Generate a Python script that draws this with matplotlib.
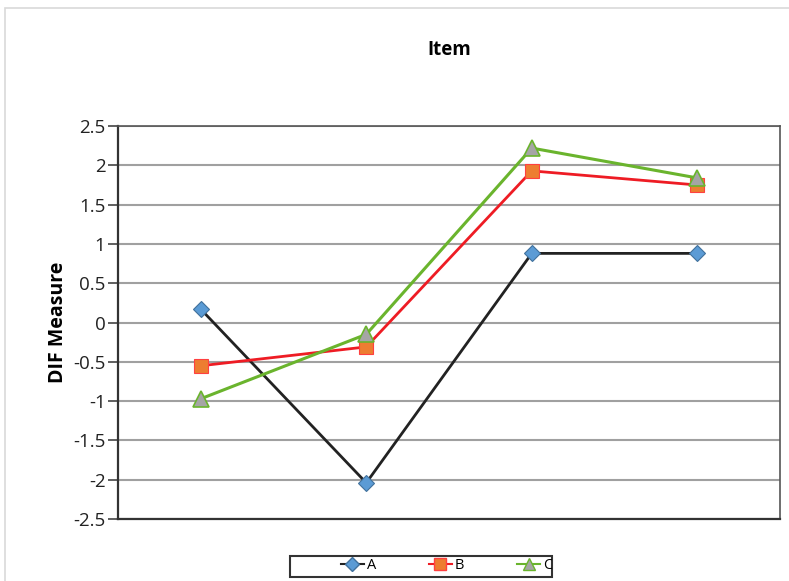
import matplotlib.pyplot as plt
from matplotlib.lines import Line2D
from matplotlib.patches import Rectangle

plt.rcParams['font.family'] = ['Open Sans', 'DejaVu Sans']

items = [1, 2, 3, 4]
a_vals = [0.17, -2.04, 0.88, 0.88]
b_vals = [-0.55, -0.31, 1.93, 1.75]
c_vals = [-0.97, -0.15, 2.22, 1.84]

fig = plt.figure(figsize=(7.89, 5.81), dpi=100)
ax = fig.add_axes([0.1496, 0.1067, 0.839, 0.6763])

ax.plot(items, a_vals, color='#222222', lw=2, marker='D', ms=8,
        mfc='#5b9bd5', mec='#41719c', mew=0.8, label='A', zorder=3)
ax.plot(items, b_vals, color='#ee1c24', lw=2, marker='s', ms=10,
        mfc='#ed7d31', mec='#ff4040', mew=0.8, label='B', zorder=4)
ax.plot(items, c_vals, color='#6ab42d', lw=2.2, marker='^', ms=11,
        mfc='#a5a5a5', mec='#6ab42d', mew=1.2, label='C', zorder=5)

ax.set_xlim(0.5, 4.5)
ax.set_ylim(-2.5, 2.5)
ax.set_yticks([2.5, 2, 1.5, 1, 0.5, 0, -0.5, -1, -1.5, -2, -2.5])
ax.set_yticklabels(['2.5', '2', '1.5', '1', '0.5', '0', '-0.5', '-1', '-1.5', '-2', '-2.5'])
ax.set_xticks([])
ax.yaxis.grid(True, color='#a0a0a0', lw=1.5)
ax.set_axisbelow(True)
ax.tick_params(axis='y', direction='out', length=7, width=1.2, color='#444444',
               labelsize=13.5, labelcolor='#222222', pad=2)
for side in ['left', 'bottom']:
    ax.spines[side].set_color('#333333')
    ax.spines[side].set_linewidth(1.6)
for side in ['top', 'right']:
    ax.spines[side].set_color('#555555')
    ax.spines[side].set_linewidth(1.2)

ax.set_ylabel('DIF Measure', fontsize=14, fontweight='bold', labelpad=4)
ax.set_title('Item', fontsize=13.5, fontweight='bold', pad=51)

handles = [
    Line2D([], [], color='#222222', lw=1.5, marker='D', ms=7, mfc='#5b9bd5', mec='#41719c'),
    Line2D([], [], color='#ee1c24', lw=1.5, marker='s', ms=8, mfc='#ed7d31', mec='#ff4040'),
    Line2D([], [], color='#6ab42d', lw=1.5, marker='^', ms=9, mfc='#a5a5a5', mec='#6ab42d'),
]
leg = fig.legend(handles, ['A', 'B', 'C'], ncol=3, loc='center',
                 bbox_to_anchor=(0.566, 0.026), frameon=False, fontsize=10.5,
                 handlelength=1.6, handletextpad=0.2, columnspacing=3.6)

# legend frame, clipped on the right like the original
frame = Rectangle((290 / 789, 1 - 577 / 581), 262 / 789, 21 / 581,
                  transform=fig.transFigure, fill=False,
                  edgecolor='#333333', lw=1.5)
fig.patches.append(frame)
for t in leg.get_texts():
    t.set_clip_path(frame)

fig.patches.append(Rectangle((0.006, -0.01), 1.1, 0.997, transform=fig.transFigure,
                             fill=False, edgecolor='#d9d9d9', lw=1.2))

fig.savefig('out.png', dpi=100)
